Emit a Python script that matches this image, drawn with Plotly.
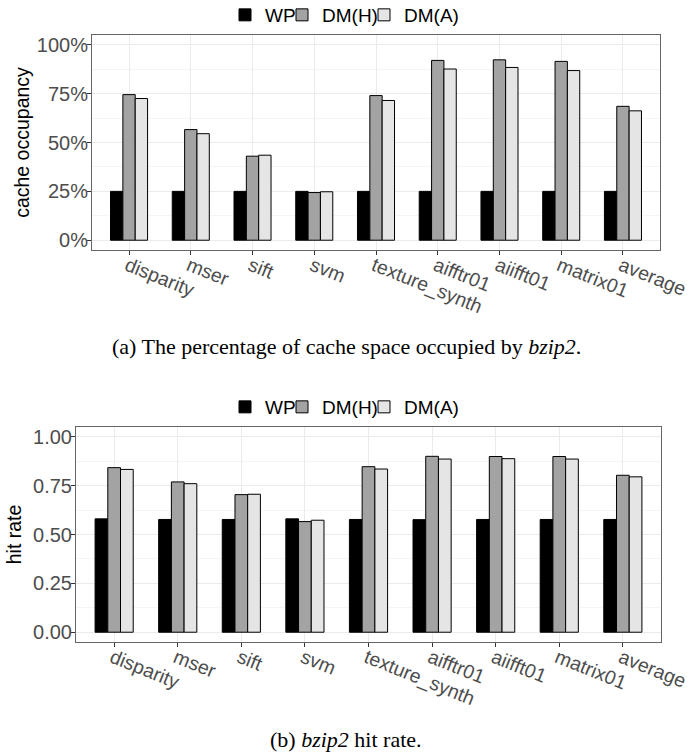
import plotly.graph_objects as go

categories = ["disparity", "mser", "sift", "svm", "texture_synth",
              "aifftr01", "aiifft01", "matrix01", "average"]
series_names = ["WP", "DM(H)", "DM(A)"]

occ_wp = [0.25, 0.25, 0.25, 0.25, 0.25, 0.25, 0.25, 0.25, 0.25]
occ_dmh = [0.745, 0.566, 0.43, 0.244, 0.74, 0.92, 0.923, 0.915, 0.685]
occ_dma = [0.725, 0.545, 0.435, 0.248, 0.715, 0.876, 0.884, 0.868, 0.662]

hit_wp = [0.58, 0.577, 0.577, 0.58, 0.577, 0.576, 0.577, 0.577, 0.577]
hit_dmh = [0.842, 0.769, 0.704, 0.566, 0.847, 0.90, 0.899, 0.899, 0.803]
hit_dma = [0.833, 0.760, 0.706, 0.573, 0.835, 0.886, 0.888, 0.886, 0.795]

y_ticks = [0, 0.25, 0.5, 0.75, 1.0]

fills = ["#000000", "#a3a3a3", "#e5e5e5"]

W, H = 691, 754

def px_x(x):
    return x / W

def px_y(y):
    return 1 - y / H

fig = go.Figure()

legend_widths = [12, 37, 60]

for vals, name, col, lw in zip([occ_wp, occ_dmh, occ_dma], series_names, fills, legend_widths):
    fig.add_trace(go.Bar(x=categories, y=vals, name=name, marker_color=col,
                         marker_line_color="#000000", marker_line_width=1,
                         xaxis="x", yaxis="y", legend="legend", legendwidth=lw))
for vals, name, col, lw in zip([hit_wp, hit_dmh, hit_dma], series_names, fills, legend_widths):
    fig.add_trace(go.Bar(x=categories, y=vals, name=name, marker_color=col,
                         marker_line_color="#000000", marker_line_width=1,
                         xaxis="x2", yaxis="y2", legend="legend2", legendwidth=lw))

tick_font = dict(family="Liberation Sans, Arial, sans-serif", size=19.5, color="#4d4d4d")
ytick_font = dict(family="Liberation Sans, Arial, sans-serif", size=20, color="#4d4d4d")
title_font = dict(family="Liberation Sans, Arial, sans-serif", size=19.5, color="#000000")

def xax(domain, anchor):
    return dict(domain=domain, anchor=anchor, type="category", automargin=False,
                range=[-0.6, len(categories) - 0.4],
                showgrid=True, gridcolor="#ebebeb", gridwidth=1,
                showline=True, mirror=True, linecolor="#666666", linewidth=1,
                ticks="outside", ticklen=4, tickcolor="#333333",
                tickangle=22, tickfont=tick_font, zeroline=False,
                ticklabelshift=-2, ticklabelstandoff=-8)

def yax(domain, anchor, fmt, title, standoff):
    return dict(domain=domain, anchor=anchor, range=[-0.05, 1.05], automargin=False,
                tickvals=y_ticks, tickformat=fmt,
                showgrid=True, gridcolor="#ebebeb", gridwidth=1,
                minor=dict(dtick=0.125, tick0=0.125, showgrid=True,
                           gridcolor="#f5f5f5", gridwidth=1, ticks=""),
                showline=True, mirror=True, linecolor="#666666", linewidth=1,
                ticks="outside", ticklen=4, tickcolor="#333333",
                tickfont=ytick_font, zeroline=False, ticklabelstandoff=-5,
                title=dict(text=title, font=title_font, standoff=standoff))

leg_font = dict(family="Liberation Sans, Arial, sans-serif", size=19, color="#000000")

fig.update_layout(
    width=W, height=H, autosize=False,
    margin=dict(l=0, r=0, t=0, b=0, autoexpand=False),
    paper_bgcolor="white", plot_bgcolor="white",
    template="none",
    barmode="group", bargap=0.4, bargroupgap=0,
    xaxis=xax([px_x(92), px_x(660)], "y"),
    yaxis=yax([px_y(250), px_y(35)], "x", ".0%", "cache occupancy", 2),
    xaxis2=xax([px_x(76), px_x(661)], "y2"),
    yaxis2=yax([px_y(642), px_y(427)], "x2", ".2f", "hit rate", 6),
    legend=dict(orientation="h", x=px_x(347), xanchor="center", y=px_y(15), yanchor="middle",
                font=leg_font, bgcolor="rgba(0,0,0,0)", borderwidth=0, itemwidth=30,
                itemclick=False, itemdoubleclick=False),
    legend2=dict(orientation="h", x=px_x(347), xanchor="center", y=px_y(407), yanchor="middle",
                 font=leg_font, bgcolor="rgba(0,0,0,0)", borderwidth=0, itemwidth=30,
                 itemclick=False, itemdoubleclick=False),
    showlegend=True,
)

cap_font = dict(family="Liberation Serif, Times New Roman, serif", size=22, color="#000000")
fig.add_annotation(text="(a) The percentage of cache space occupied by <i>bzip2</i>.",
                   xref="paper", yref="paper", x=px_x(346), y=px_y(346),
                   xanchor="center", yanchor="middle", showarrow=False, font=cap_font)
fig.add_annotation(text="(b) <i>bzip2</i> hit rate.",
                   xref="paper", yref="paper", x=px_x(346), y=px_y(739),
                   xanchor="center", yanchor="middle", showarrow=False, font=cap_font)

# remove the browser's default 8px body margin so the figure fills the window exactly
fig.write_html("out.html", config={"displayModeBar": False},
               post_script="document.body.style.margin='0px';")
